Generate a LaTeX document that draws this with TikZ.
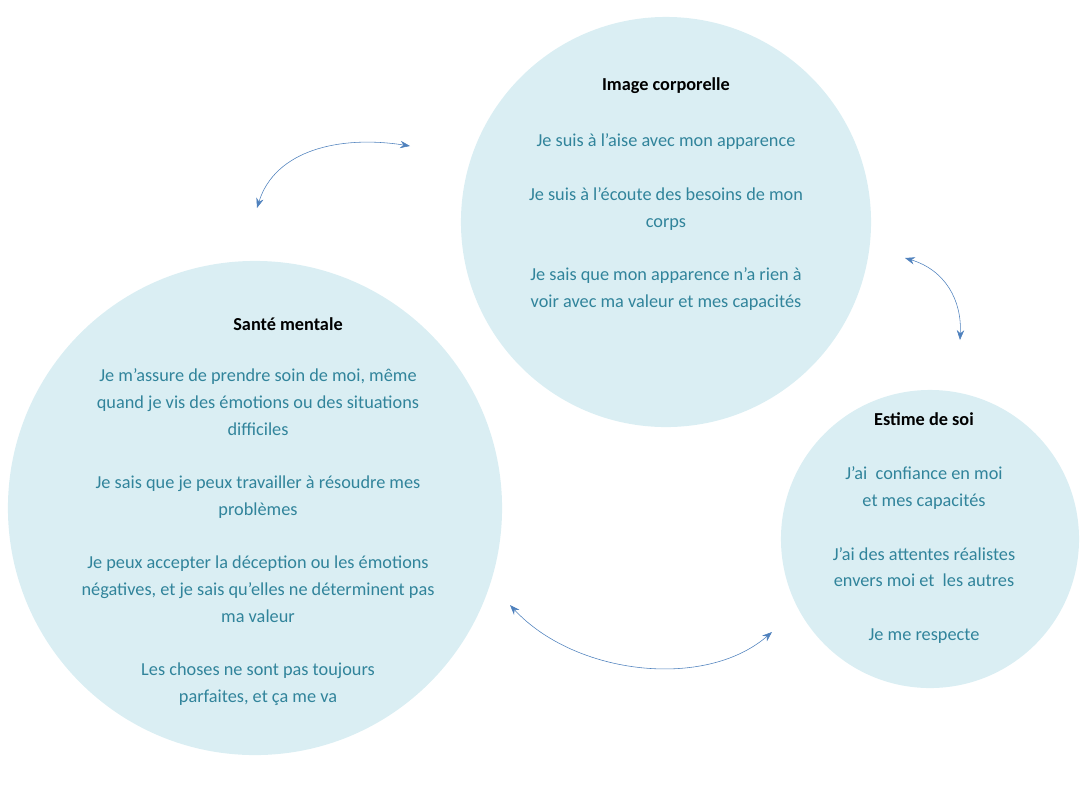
\documentclass[tikz,border=0pt]{standalone}
\usepackage{fontspec}
\setmainfont{Carlito}
\usetikzlibrary{arrows.meta}
\definecolor{bulle}{RGB}{218,238,243}
\definecolor{texte}{RGB}{49,132,155}
\definecolor{fleche}{RGB}{79,129,189}
\tikzset{
  bulle/.style={circle, fill=bulle, inner sep=0pt},
  titre/.style={font=\fontsize{13pt}{19pt}\selectfont\bfseries, text=black},
  corps/.style={font=\fontsize{13pt}{19pt}\selectfont, text=texte, align=center, anchor=north},
  lien/.style={draw=fleche, thin, {Stealth[length=7pt]}-{Stealth[length=7pt]}}
}
\begin{document}
\begin{tikzpicture}[x=0.025cm, y=-0.025cm]
  \path[use as bounding box] (0,0) rectangle (1088,792);

%%%%%%%%%%%% Bulles
  \node[bulle, minimum size=10.25cm] (image) at (666,222) {};
  \node[bulle, minimum size=12.35cm] (sante) at (255,508) {};
  \node[bulle, minimum size=7.45cm] (estime) at (930,539) {};

%%%%%%%%%%%% Textes
  \node[titre] (t1) at (666,86) {Image corporelle};
  \node[corps] (c1) at (666,129) {Je suis à l'aise avec mon apparence\\[19pt]
    Je suis à l’écoute des besoins de mon\\ corps\\[19pt]
    Je sais que mon apparence n'a rien à\\ voir avec ma valeur et mes capacités};

  \node[titre] (t2) at (288,324) {Santé mentale};
  \node[corps] (c2) at (258,364) {Je m’assure de prendre soin de moi, même\\
    quand je vis des émotions ou des situations\\ difficiles\\[19pt]
    Je sais que je peux travailler à résoudre mes\\ problèmes\\[19pt]
    Je peux accepter la déception ou les émotions\\
    négatives, et je sais qu’elles ne déterminent pas\\ ma valeur\\[19pt]
    Les choses ne sont pas toujours\\ parfaites, et ça me va};

  \node[titre] (t3) at (924,419) {Estime de soi};
  \node[corps] (c3) at (924,462) {J’ai~ confiance en moi\\ et mes capacités\\[19pt]
    J’ai des attentes réalistes\\ envers moi et~ les autres\\[19pt]
    Je me respecte};

%%%%%%%%%%%% Fleches
  \coordinate (a1) at (257,208);
  \coordinate (b1) at (410,146);
  \coordinate (a2) at (905,258);
  \coordinate (b2) at (960,340);
  \coordinate (a3) at (510,605);
  \coordinate (b3) at (772,632);
  \draw[lien] (a1) .. controls (275,150) and (340,135) .. (b1);
  \draw[lien] (a2) .. controls (945,270) and (962,300) .. (b2);
  \draw[lien] (a3) .. controls (575,675) and (705,690) .. (b3);
\end{tikzpicture}
\end{document}
